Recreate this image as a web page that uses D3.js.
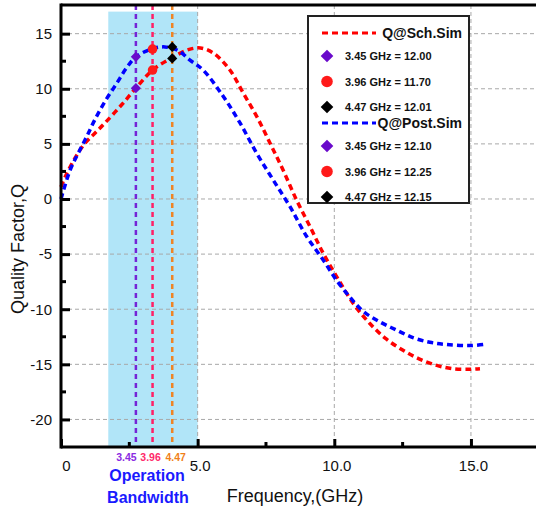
<!DOCTYPE html>
<html>
<head>
<meta charset="utf-8">
<script src="https://cdn.jsdelivr.net/npm/d3@7"></script>
<style>
  body { margin: 0; background: #fff; }
  svg { display: block; font-family: "Liberation Sans", Arial, sans-serif; }
</style>
</head>
<body>
<div id="chart"></div>
<script>
// Q@Sch.Sim curve (red)
var schFreq = [0, 0.15, 0.51, 0.88, 1.24, 1.61, 2.22, 2.74, 3.35, 4.05, 4.66, 5.1, 5.57, 6.18, 6.67, 7.16, 7.65, 8.13, 8.62, 9.11, 9.6, 10.09, 10.7, 11.3, 11.9, 12.5, 13.1, 13.75, 14.35, 14.97, 15.33];
var schQ = [1.1, 2.0, 3.7, 5.06, 5.97, 6.9, 8.55, 10.05, 11.7, 12.8, 13.55, 13.7, 13.25, 11.7, 9.6, 7.5, 5.06, 2.6, -0.1, -2.5, -4.95, -7.06, -9.5, -11.3, -12.7, -13.7, -14.5, -15.1, -15.4, -15.45, -15.4];

// Q@Post.Sim curve (blue)
var postFreq = [0, 0.33, 0.63, 0.94, 1.24, 1.61, 2.04, 2.4, 2.74, 3.3, 3.8, 4.3, 4.72, 5.2, 5.94, 6.55, 7.16, 7.77, 8.38, 8.99, 9.6, 10.09, 10.57, 11.06, 11.67, 12.28, 12.9, 13.5, 14.1, 14.97, 15.45];
var postQ = [0, 2.6, 4.15, 5.66, 7.2, 8.85, 10.5, 11.9, 12.9, 13.6, 13.8, 13.45, 12.6, 11.7, 9.3, 6.9, 4.15, 1.7, -0.7, -3.4, -5.55, -7.4, -8.9, -10.2, -11.15, -11.9, -12.6, -13.0, -13.2, -13.3, -13.2];

// marked frequencies (as drawn) and their labels
var markerFreq = [2.74, 3.35, 4.07];
var markerLabels = ["3.45", "3.96", "4.47"];
var schMarkerQ = [10.05, 11.7, 12.75];
var postMarkerQ = [12.9, 13.6, 13.8];
var schLegend = ["3.45 GHz = 12.00", "3.96 GHz = 11.70", "4.47 GHz = 12.01"];
var postLegend = ["3.45 GHz = 12.10", "3.96 GHz = 12.25", "4.47 GHz = 12.15"];

// operation band
var bandFreq = [1.73, 5.0];
var bandTop = 17.0;

var xTicks = [0, 5, 10, 15];
var xMinor = [2.5, 7.5, 12.5];
var yTicks = [-20, -15, -10, -5, 0, 5, 10, 15];
var yMinor = [-17.5, -12.5, -7.5, -2.5, 2.5, 7.5, 12.5];

var markerColors = ["#6a0acb", "#ff1a1a", "#000000"];
var lineColors = ["#7424d6", "#ff1f66", "#ef8424"];
var labelColors = ["#8a2be2", "#ff2a6a", "#f07f1a"];
var labelShift = [-9.5, -2, 3.5];

var W = 536, H = 512;
var margin = { top: 5, left: 61, bottom: 447 };

var svg = d3.select("#chart")
  .append("svg")
  .attr("width", W)
  .attr("height", H);

var x = d3.scaleLinear().domain([0, 17.5]).range([margin.left, margin.left + 17.5 * 27.33]);
var y = d3.scaleLinear().domain([-22.5, 17.6]).range([margin.bottom, margin.top]);

// band
svg.append("rect")
  .attr("x", x(bandFreq[0]))
  .attr("y", y(bandTop))
  .attr("width", x(bandFreq[1]) - x(bandFreq[0]))
  .attr("height", margin.bottom - y(bandTop))
  .style("fill", "#b1e5f8");

// grid
svg.append("g").selectAll("line")
  .data(yTicks)
  .enter().append("line")
  .attr("x1", x(0)).attr("x2", W)
  .attr("y1", d => y(d)).attr("y2", d => y(d))
  .style("stroke", "#a8a8a8").style("stroke-width", 1).style("stroke-dasharray", "4,3");

svg.append("g").selectAll("line")
  .data(xTicks.filter(d => d > 0))
  .enter().append("line")
  .attr("x1", d => x(d)).attr("x2", d => x(d))
  .attr("y1", margin.top).attr("y2", margin.bottom)
  .style("stroke", "#a8a8a8").style("stroke-width", 1).style("stroke-dasharray", "4,3");

// vertical marker lines
svg.append("g").selectAll("line")
  .data(markerFreq)
  .enter().append("line")
  .attr("x1", d => x(d)).attr("x2", d => x(d))
  .attr("y1", margin.top).attr("y2", margin.bottom)
  .style("stroke", (d, i) => lineColors[i])
  .style("stroke-width", 2.5)
  .style("stroke-dasharray", "5,4");

// curves
var line = d3.line()
  .x(d => x(d[0]))
  .y(d => y(d[1]))
  .curve(d3.curveCatmullRom.alpha(0.5));

svg.append("path")
  .datum(d3.zip(schFreq, schQ))
  .attr("d", line)
  .style("fill", "none").style("stroke", "#ff0000")
  .style("stroke-width", 3.5).style("stroke-dasharray", "6,4");

svg.append("path")
  .datum(d3.zip(postFreq, postQ))
  .attr("d", line)
  .style("fill", "none").style("stroke", "#0000ff")
  .style("stroke-width", 3.5).style("stroke-dasharray", "6,4");

// markers on curves
function drawMarker(g, i, px, py, big) {
  if (i === 1) {
    g.append("circle").attr("cx", px).attr("cy", py).attr("r", big ? 5.8 : 4.8)
      .style("fill", markerColors[i]);
  } else {
    g.append("path")
      .attr("d", d3.symbol(d3.symbolSquare, big ? 80 : 52)())
      .attr("transform", "translate(" + px + "," + py + ") rotate(45)")
      .style("fill", markerColors[i]);
  }
}

var mk = svg.append("g");
markerFreq.forEach(function (f, i) {
  drawMarker(mk, i, x(f), y(schMarkerQ[i]), false);
  drawMarker(mk, i, x(f), y(postMarkerQ[i]), false);
});

// axes
var yAxis = d3.axisLeft(y).tickValues(yTicks).tickSizeInner(-9).tickSizeOuter(0).tickPadding(9)
  .tickFormat(d => String(d));
var gy = svg.append("g").attr("transform", "translate(" + x(0) + ",0)").call(yAxis);
gy.select(".domain").remove();
gy.selectAll("text").style("font-size", "15px").style("fill", "#111");
gy.selectAll("line").style("stroke", "#000").style("stroke-width", 3);

svg.append("g").selectAll("line")
  .data(yMinor)
  .enter().append("line")
  .attr("x1", x(0)).attr("x2", x(0) + 5)
  .attr("y1", d => y(d)).attr("y2", d => y(d))
  .style("stroke", "#000").style("stroke-width", 3);

var xAxis = d3.axisBottom(x).tickValues(xTicks).tickSizeInner(-8).tickSizeOuter(0).tickPadding(13)
  .tickFormat(d => d === 0 ? "0" : d.toFixed(1));
var gx = svg.append("g").attr("transform", "translate(0," + margin.bottom + ")").call(xAxis);
gx.select(".domain").remove();
gx.selectAll("text").style("font-size", "15px").style("fill", "#111")
  .attr("dx", d => d === 0 ? 5 : 2);
gx.selectAll("line").style("stroke", "#000").style("stroke-width", 3);

svg.append("g").selectAll("line")
  .data(xMinor)
  .enter().append("line")
  .attr("x1", d => x(d)).attr("x2", d => x(d))
  .attr("y1", margin.bottom).attr("y2", margin.bottom - 5)
  .style("stroke", "#000").style("stroke-width", 3);

// frame lines
svg.append("line")
  .attr("x1", x(0)).attr("x2", x(0))
  .attr("y1", margin.top - 1.5).attr("y2", margin.bottom + 1.5)
  .style("stroke", "#000").style("stroke-width", 3);
svg.append("line")
  .attr("x1", x(0)).attr("x2", W)
  .attr("y1", margin.bottom).attr("y2", margin.bottom)
  .style("stroke", "#000").style("stroke-width", 3);
svg.append("line")
  .attr("x1", x(0)).attr("x2", W)
  .attr("y1", margin.top).attr("y2", margin.top)
  .style("stroke", "#000").style("stroke-width", 3);

// labels under the axis
svg.append("g").selectAll("text")
  .data(markerLabels)
  .enter().append("text")
  .attr("x", (d, i) => x(markerFreq[i]) + labelShift[i])
  .attr("y", 461)
  .attr("text-anchor", "middle")
  .style("font-size", "10.5px").style("font-weight", "bold")
  .style("fill", (d, i) => labelColors[i])
  .text(d => d);

svg.append("text")
  .attr("x", 147).attr("y", 481)
  .attr("text-anchor", "middle")
  .style("font-size", "16px").style("font-weight", "bold").style("fill", "#1a1aff")
  .text("Operation");
svg.append("text")
  .attr("x", 148).attr("y", 503)
  .attr("text-anchor", "middle")
  .style("font-size", "16px").style("font-weight", "bold").style("fill", "#1a1aff")
  .text("Bandwidth");

// axis titles
svg.append("text")
  .attr("x", 295).attr("y", 502)
  .attr("text-anchor", "middle")
  .style("font-size", "18px").style("fill", "#111")
  .text("Frequency,(GHz)");

svg.append("text")
  .attr("transform", "translate(24,249) rotate(-90)")
  .attr("text-anchor", "middle")
  .style("font-size", "18px").style("fill", "#111")
  .text("Quality Factor,Q");

// legend
var lg = svg.append("g");
lg.append("rect")
  .attr("x", 308).attr("y", 16)
  .attr("width", 161).attr("height", 187)
  .style("fill", "#fff").style("stroke", "#222").style("stroke-width", 2);

function legendBlock(top, color, title, labels) {
  lg.append("line")
    .attr("x1", 322).attr("x2", 376)
    .attr("y1", top).attr("y2", top)
    .style("stroke", color).style("stroke-width", 3).style("stroke-dasharray", "6,4");
  lg.append("text")
    .attr("x", 462).attr("y", top + 5)
    .attr("text-anchor", "end")
    .style("font-size", "14px").style("font-weight", "bold").style("fill", "#111")
    .text(title);
  labels.forEach(function (t, i) {
    var cy = top + 23 + i * 25.5;
    drawMarker(lg, i, 327, cy, true);
    lg.append("text")
      .attr("x", 345).attr("y", cy + 4)
      .style("font-size", "11px").style("font-weight", "bold").style("fill", "#111")
      .text(t);
  });
}
legendBlock(33, "#ff0000", "Q@Sch.Sim", schLegend);
legendBlock(123, "#0000ff", "Q@Post.Sim", postLegend);
</script>
</body>
</html>
